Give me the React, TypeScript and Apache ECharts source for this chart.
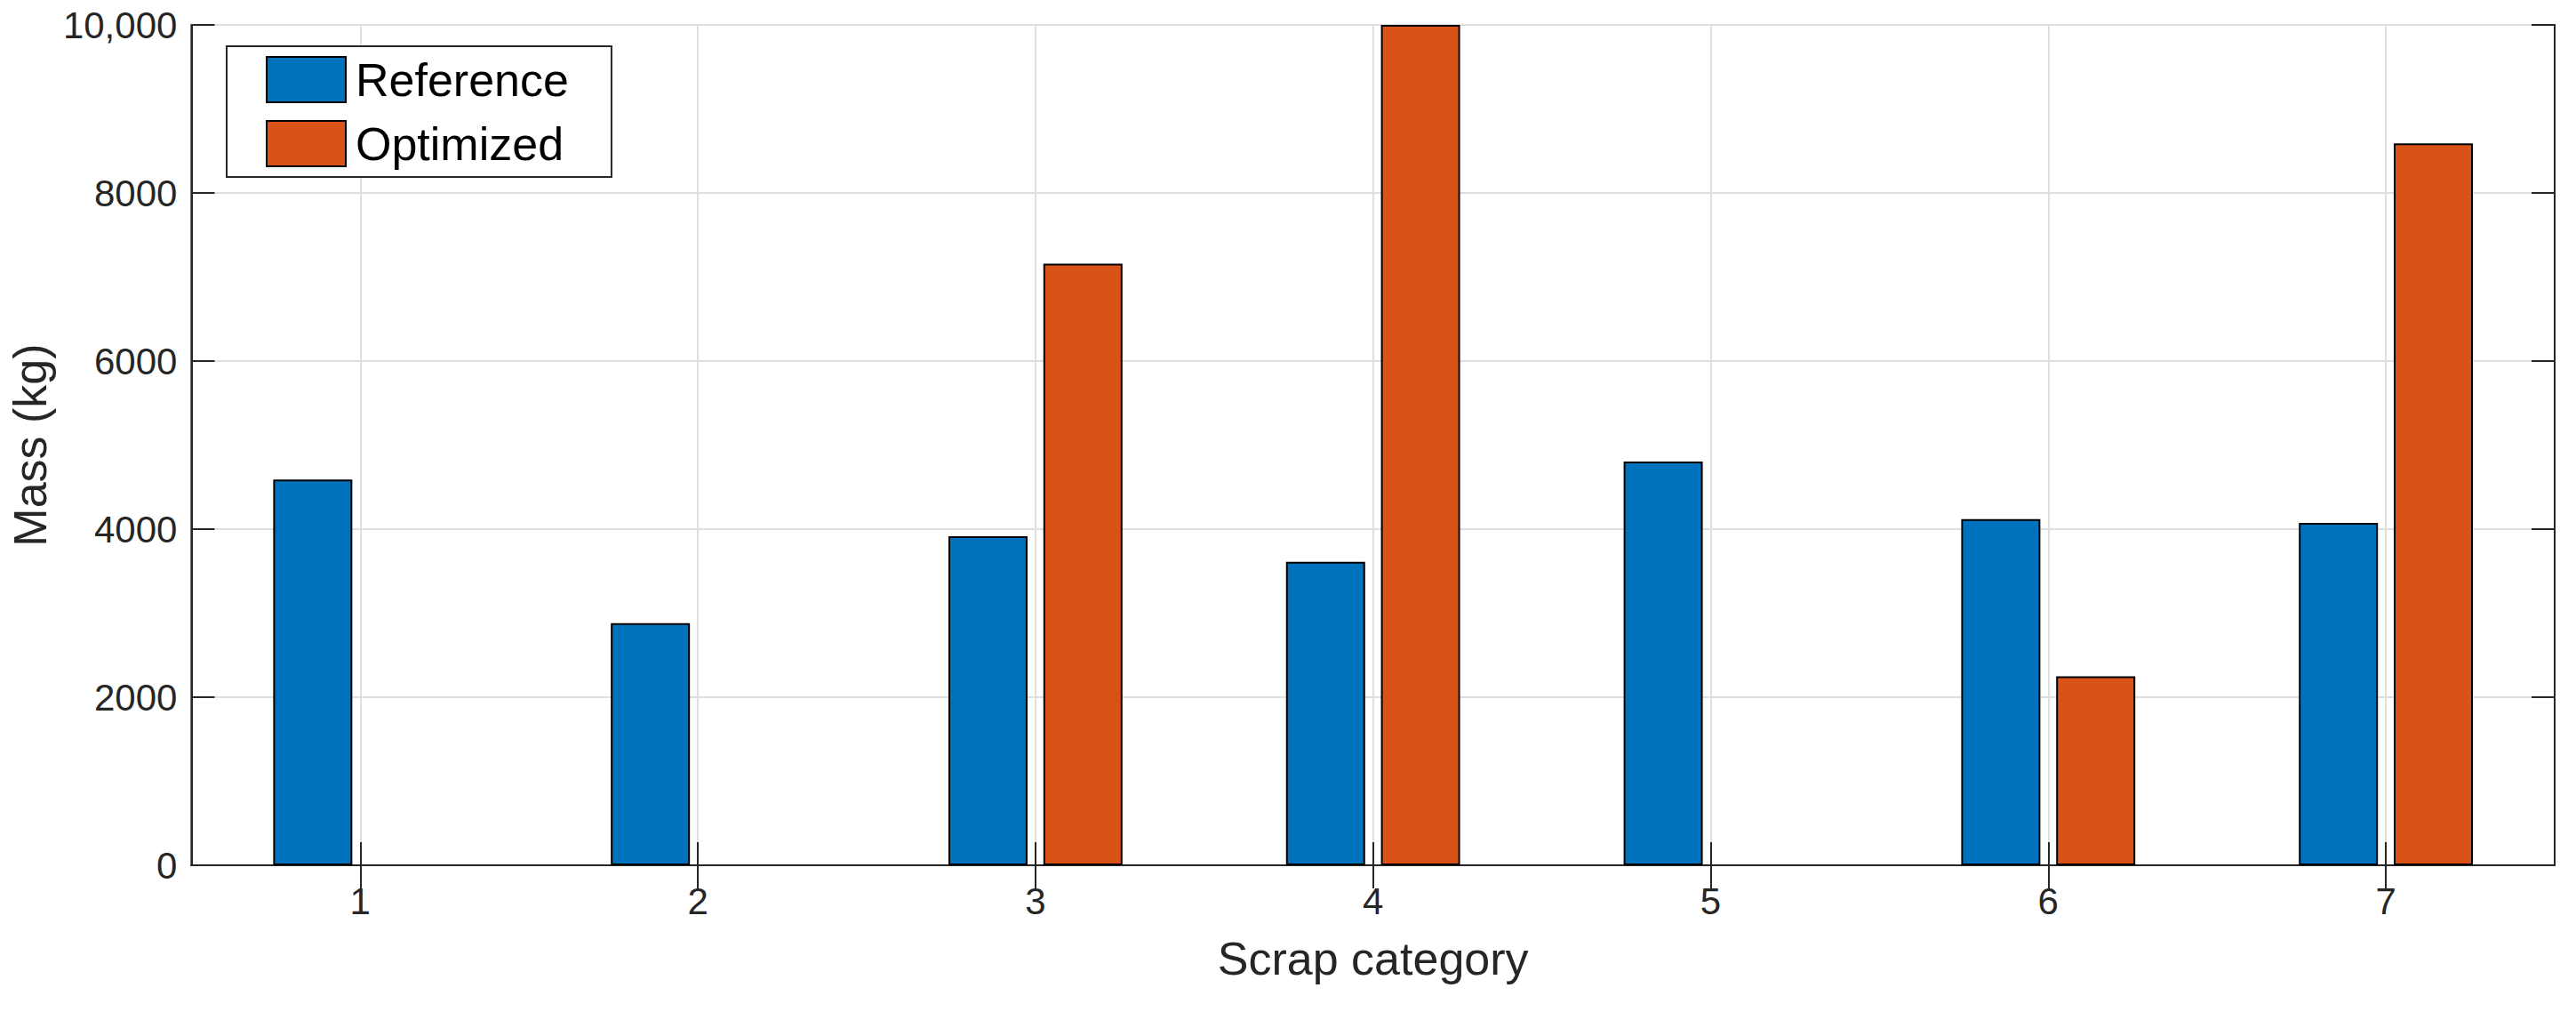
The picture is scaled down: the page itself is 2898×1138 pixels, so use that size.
import React, { useEffect, useRef } from "react";
import * as echarts from "echarts";

const categories = ["1", "2", "3", "4", "5", "6", "7"];
const referenceMass = [4590, 2880, 3915, 3610, 4805, 4120, 4075];
const optimizedMass = [0, 0, 7160, 10000, 0, 2250, 8590];
const seriesNames = ["Reference", "Optimized"];
const yTicks = { min: 0, max: 10000, interval: 2000 };

const FONT = "'Liberation Sans', Arial, Helvetica, sans-serif";
const AXIS_COLOR = "#262626";
const GRID_COLOR = "#dfdfdf";

const toBarData = (values: number[]) =>
  values.map((v) => (v === 0 ? { value: v, itemStyle: { borderWidth: 0 } } : v));

export default function App() {
  const ref = useRef<HTMLDivElement>(null);

  useEffect(() => {
    document.body.style.margin = "0";
    document.body.style.overflow = "hidden";
    if (!ref.current) return;
    const chart = echarts.init(ref.current, undefined, { renderer: "svg" });

    const tickStyle = { show: true, inside: true, length: 26, lineStyle: { color: AXIS_COLOR, width: 2 } };

    const option: any = {
      animation: false,
      backgroundColor: "#ffffff",
      textStyle: { fontFamily: FONT },
      grid: {
        left: 204,
        top: 28,
        right: 24,
        bottom: 165,
        show: true,
        borderColor: AXIS_COLOR,
        borderWidth: 2,
        backgroundColor: "transparent",
      },
      legend: {
        show: true,
        orient: "vertical",
        left: 255,
        top: 52,
        data: seriesNames,
        itemWidth: 89,
        itemHeight: 51,
        itemGap: 19,
        icon: "rect",
        padding: [11, 48, 11, 44],
        backgroundColor: "#ffffff",
        borderColor: AXIS_COLOR,
        borderWidth: 2,
        borderRadius: 0,
        textStyle: { fontSize: 52, color: "#000000", fontFamily: FONT, padding: [0, 0, 0, 6] },
      },
      xAxis: [
        {
          type: "category",
          data: categories,
          position: "bottom",
          name: "Scrap category",
          nameLocation: "middle",
          nameGap: 79,
          nameTextStyle: { fontSize: 52, color: AXIS_COLOR, fontFamily: FONT },
          axisLine: { show: true, lineStyle: { color: AXIS_COLOR, width: 2 } },
          axisTick: { ...tickStyle, alignWithLabel: true },
          axisLabel: { fontSize: 42, color: AXIS_COLOR, margin: 19, fontFamily: FONT },
          splitLine: { show: true, alignWithLabel: true, lineStyle: { color: GRID_COLOR, width: 2 } },
        },
        {
          type: "category",
          data: categories,
          position: "top",
          axisLine: { show: true, lineStyle: { color: AXIS_COLOR, width: 2 } },
          axisTick: { ...tickStyle, alignWithLabel: true },
          axisLabel: { show: false },
          splitLine: { show: false },
        },
      ],
      yAxis: [
        {
          type: "value",
          min: yTicks.min,
          max: yTicks.max,
          interval: yTicks.interval,
          position: "left",
          name: "Mass (kg)",
          nameLocation: "middle",
          nameGap: 147,
          nameTextStyle: { fontSize: 52, color: AXIS_COLOR, fontFamily: FONT },
          axisLine: { show: true, lineStyle: { color: AXIS_COLOR, width: 2 } },
          axisTick: tickStyle,
          axisLabel: {
            fontSize: 42,
            color: AXIS_COLOR,
            margin: 16,
            fontFamily: FONT,
            formatter: (v: number) => (v >= 10000 ? v.toLocaleString("en-US") : String(v)),
          },
          splitLine: { show: true, lineStyle: { color: GRID_COLOR, width: 2 } },
        },
        {
          type: "value",
          min: yTicks.min,
          max: yTicks.max,
          interval: yTicks.interval,
          position: "right",
          axisLine: { show: true, lineStyle: { color: AXIS_COLOR, width: 2 } },
          axisTick: tickStyle,
          axisLabel: { show: false },
          splitLine: { show: false },
        },
      ],
      series: [
        {
          name: seriesNames[0],
          type: "bar",
          xAxisIndex: 0,
          yAxisIndex: 0,
          data: toBarData(referenceMass),
          barWidth: 89,
          barGap: "20%",
          itemStyle: { color: "#0072BD", borderColor: "#000000", borderWidth: 2 },
          z: 3,
        },
        {
          name: seriesNames[1],
          type: "bar",
          xAxisIndex: 0,
          yAxisIndex: 0,
          data: toBarData(optimizedMass),
          barWidth: 89,
          barGap: "20%",
          itemStyle: { color: "#D95319", borderColor: "#000000", borderWidth: 2 },
          z: 3,
        },
      ],
    };

    chart.setOption(option);
    return () => chart.dispose();
  }, []);

  return <div ref={ref} style={{ width: 2898, height: 1138 }} />;
}
